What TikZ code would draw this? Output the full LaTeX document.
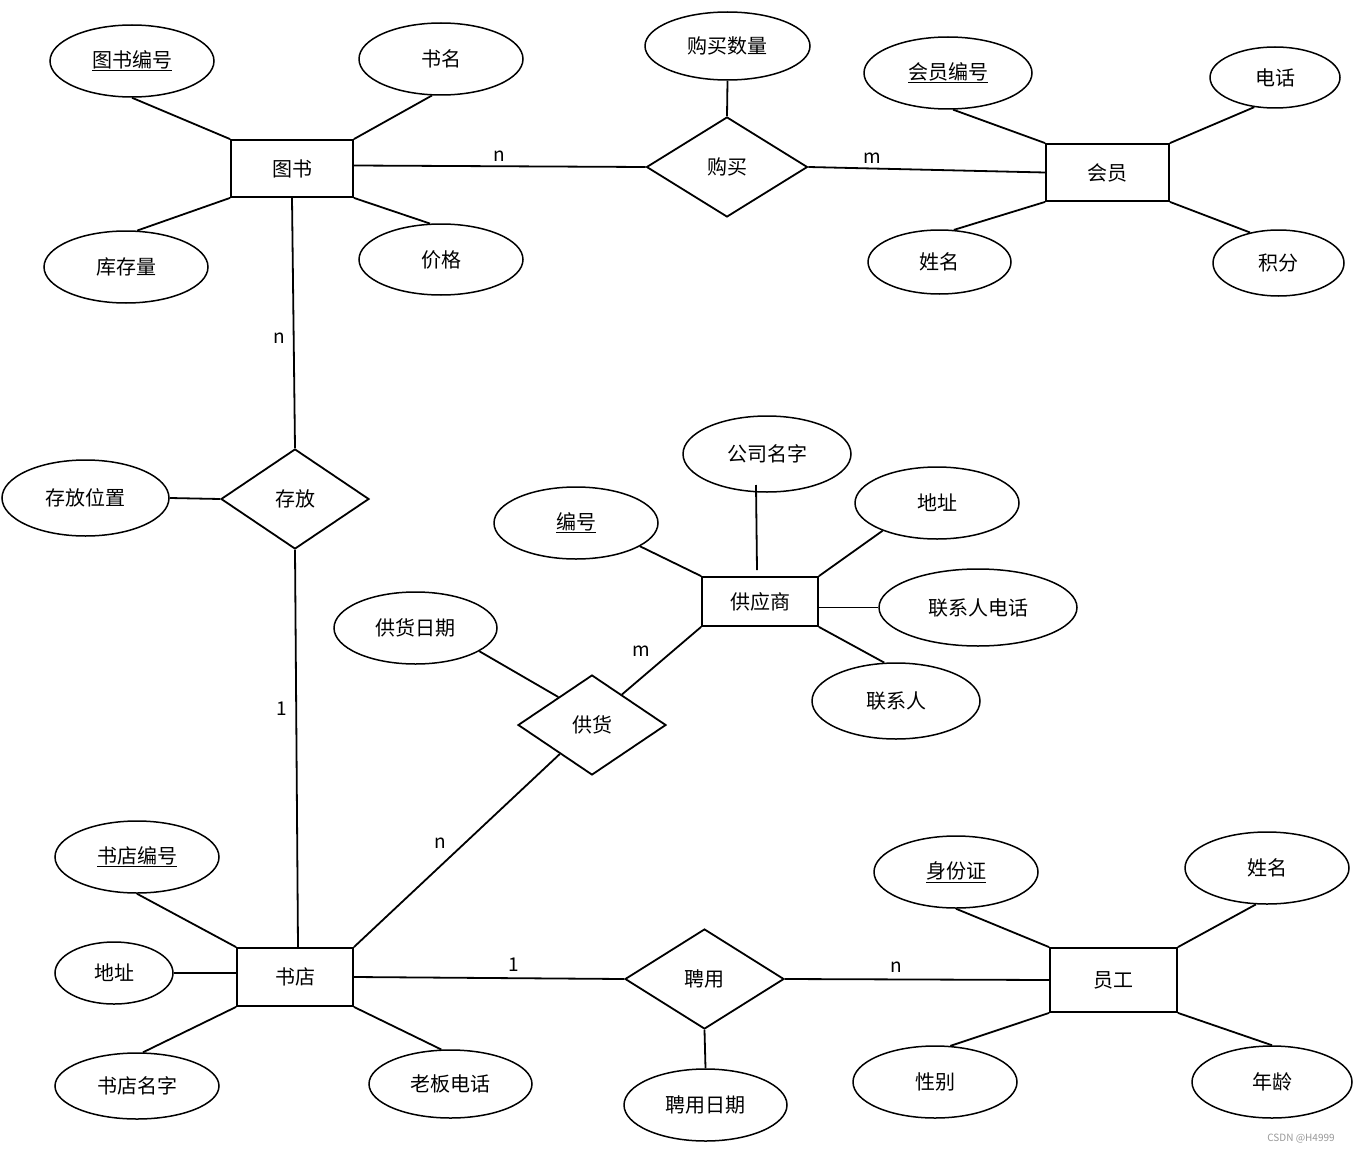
\documentclass[tikz,border=0pt]{standalone}
\usepackage{fontspec}
\setmainfont{Noto Sans CJK SC}
\usetikzlibrary{shapes.geometric,calc}
\begin{document}
\begin{tikzpicture}[x=1pt,y=-1pt,
  txt/.style={font=\fontsize{20}{24}\selectfont},
  ent/.style={txt,draw,line width=1.8pt,rectangle,inner sep=0pt},
  rel/.style={txt,draw,line width=1.8pt,diamond,inner sep=0pt},
  attr/.style={txt,draw,line width=1.5pt,ellipse,inner sep=0pt},
  conn/.style={line width=1.8pt},
  card/.style={font=\fontsize{19}{21}\selectfont,inner sep=0pt}]
\useasboundingbox[fill=white] (0,0) rectangle (1354,1153);

% entities
\node[ent,minimum width=122,minimum height=57] (ts) at (292,168.5) {图书};
\node[ent,minimum width=123,minimum height=57] (hy) at (1107.5,172.5) {会员};
\node[ent,minimum width=116,minimum height=49] (gys) at (760,601.5) {供应商};
\node[ent,minimum width=116,minimum height=58] (sd) at (295,977) {书店};
\node[ent,minimum width=127,minimum height=64] (yg) at (1113.5,980) {员工};

% relationships
\node[rel,minimum width=161,minimum height=100] (gm) at (727,167) {购买};
\node[rel,minimum width=148,minimum height=100] (cf) at (295,499) {存放};
\node[rel,minimum width=148,minimum height=100] (gh) at (592,725) {供货};
\node[rel,minimum width=159,minimum height=100] (py) at (704.5,979) {聘用};

% attributes
\node[attr,minimum width=164,minimum height=72] (tsbh) at (132,61) {\underline{图书编号}};
\node[attr,minimum width=164,minimum height=72] (sm) at (441,59) {书名};
\node[attr,minimum width=164,minimum height=72] (kcl) at (126,267) {库存量};
\node[attr,minimum width=164,minimum height=71] (jg) at (441,259.5) {价格};
\node[attr,minimum width=165,minimum height=68] (gmsl) at (727.5,46) {购买数量};
\node[attr,minimum width=168,minimum height=72] (hybh) at (948,73) {\underline{会员编号}};
\node[attr,minimum width=130,minimum height=61] (dh) at (1275,77.5) {电话};
\node[attr,minimum width=143,minimum height=64] (xm) at (939.5,262) {姓名};
\node[attr,minimum width=131,minimum height=66] (jf) at (1278.5,263) {积分};
\node[attr,minimum width=167,minimum height=76] (cfwz) at (85.5,498) {存放位置};
\node[attr,minimum width=168,minimum height=76] (gsmz) at (767,454) {公司名字};
\node[attr,minimum width=164,minimum height=72] (bh) at (576,523) {\underline{编号}};
\node[attr,minimum width=164,minimum height=72] (dza) at (937,503) {地址};
\node[attr,minimum width=198,minimum height=77] (lxrdh) at (978,607.5) {联系人电话};
\node[attr,minimum width=168,minimum height=76] (lxr) at (896,701) {联系人};
\node[attr,minimum width=163,minimum height=72] (ghrq) at (415.5,628) {供货日期};
\node[attr,minimum width=164,minimum height=72] (sdbh) at (137,857) {\underline{书店编号}};
\node[attr,minimum width=118,minimum height=62] (dzb) at (114,973) {地址};
\node[attr,minimum width=164,minimum height=66] (sdmz) at (137,1086) {书店名字};
\node[attr,minimum width=163,minimum height=68] (lbdh) at (450.5,1084) {老板电话};
\node[attr,minimum width=163,minimum height=72] (pyrq) at (705.5,1105) {聘用日期};
\node[attr,minimum width=164,minimum height=72] (sfz) at (956,872) {\underline{身份证}};
\node[attr,minimum width=164,minimum height=72] (xmb) at (1267,868) {姓名};
\node[attr,minimum width=164,minimum height=72] (xb) at (935,1082) {性别};
\node[attr,minimum width=160,minimum height=72] (nl) at (1272,1082) {年龄};

% connectors: 图书
\draw[conn] (tsbh.south) -- (ts.north west);
\draw[conn] (sm.-104) -- (ts.north east);
\draw[conn] (kcl.73) -- (ts.south west);
\draw[conn] (jg.107) -- (ts.south east);
\draw[conn] ($(ts.east)+(0,-3)$) -- node[card,pos=0.5,above=4pt] {n} (gm.west);
\draw[conn] (gm.east) -- node[card,pos=0.27,above=4pt] {m} (hy.west);
\draw[conn] (gmsl.south) -- (gm.north);
% 会员
\draw[conn] (hybh.-82) -- (hy.north west);
\draw[conn] (dh.235) -- (hy.north east);
\draw[conn] (xm.66) -- (hy.south west);
\draw[conn] (jf.133) -- (hy.south east);
% 存放
\draw[conn] (ts.south) -- node[card,pos=0.56,left=8pt] {n} (cf.north);
\draw[conn] (cfwz.east) -- (cf.west);
\draw[conn] (cf.south) -- node[card,pos=0.4,left=8pt] {1} ($(sd.north)+(3,0)$);
% 供应商
\draw[conn] ($(gsmz.center)+(-11,31)$) -- ($(gys.north)+(-3,-6)$);
\draw[conn] (bh.-20) -- (gys.north west);
\draw[conn] (dza.207) -- (gys.north east);
\draw[conn] (lxrdh.west) -- (lxrdh.west -| gys.east);
\draw[conn] (lxr.107.5) -- (gys.south east);
% 供货
\draw[conn] (ghrq.-20) -- ($(gh.west)!0.55!(gh.north)$);
\draw[conn] ($(gh.north)!0.4!(gh.east)$) -- (gys.south west);
\draw[conn] (sd.north east) -- ($(gh.west)!0.57!(gh.south)$);
\node[card] (cm) at (641,651) {m};
\node[card] (cn) at (440,843) {n};
% 书店
\draw[conn] (sdbh.south) -- (sd.north west);
\draw[conn] (dzb.east) -- (dzb.east -| sd.west);
\draw[conn] (sdmz.80) -- (sd.south west);
\draw[conn] (lbdh.105) -- (sd.south east);
% 聘用
\draw[conn] (sd.east) -- node[card,pos=0.59,above=6pt] {1} (py.west);
\draw[conn] (py.east) -- node[card,pos=0.42,above=6pt] {n} (yg.west);
\draw[conn] (py.south) -- (pyrq.north);
% 员工
\draw[conn] (sfz.south) -- (yg.north west);
\draw[conn] (xmb.253) -- (yg.north east);
\draw[conn] (xb.67) -- (yg.south west);
\draw[conn] (nl.north) -- (yg.south east);

% watermark
\node[font=\fontsize{10}{12}\selectfont,text=black!40,inner sep=0pt] (wm) at (1301,1139) {CSDN @H4999};
\end{tikzpicture}
\end{document}
